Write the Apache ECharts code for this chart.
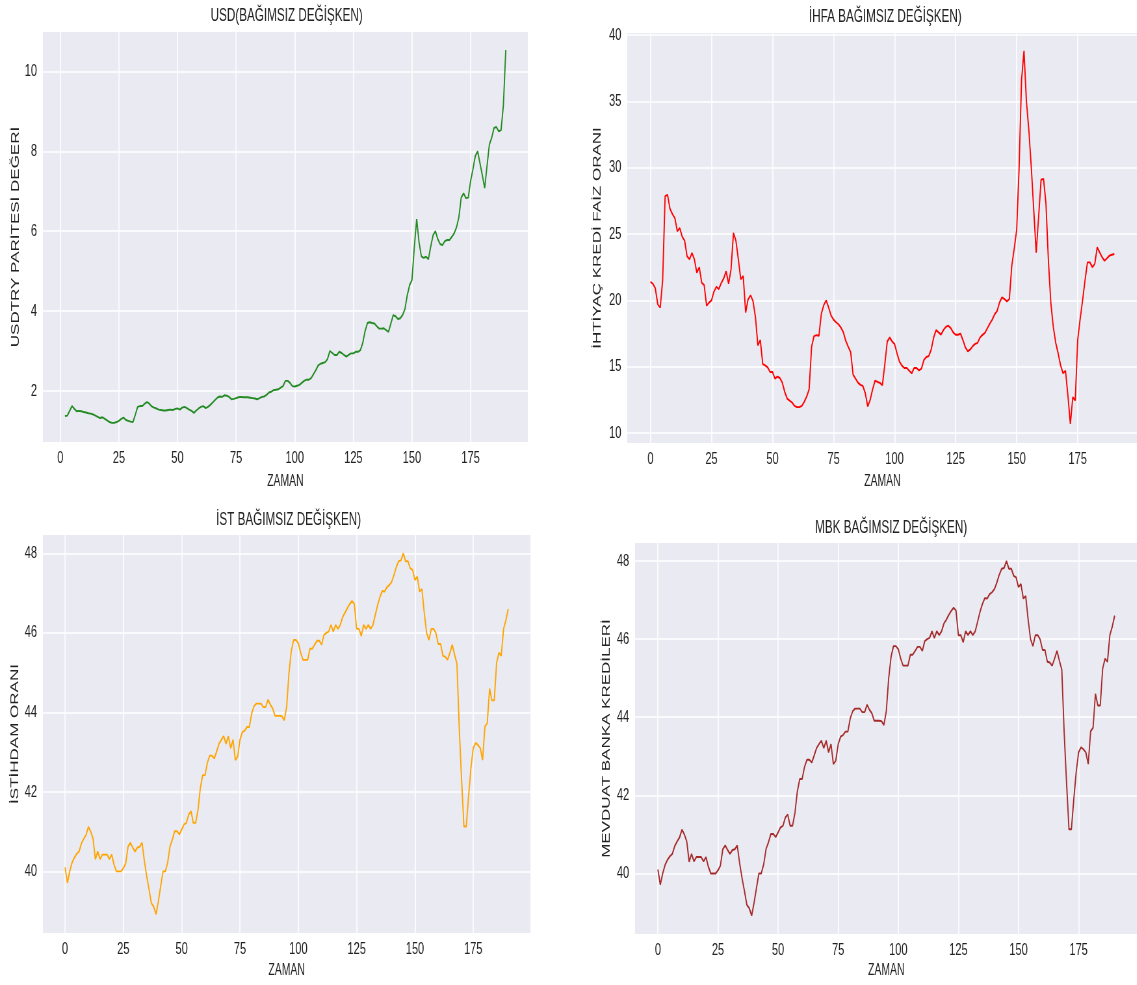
<!DOCTYPE html>
<html>
<head>
<meta charset="utf-8">
<title>Bağımsız değişkenler</title>
<script src="https://cdn.jsdelivr.net/npm/echarts@6/dist/echarts.min.js"></script>
<style>
  html, body { margin: 0; padding: 0; overflow: hidden; background: #fff; }
  /* the reference figure is squeezed horizontally, so draw wide and squeeze it the same way */
  #main { width: 1750px; height: 985px; transform: scaleX(0.65); transform-origin: 0 0; }
</style>
</head>
<body>
<div id="main"></div>
<script>
var myChart = echarts.init(document.getElementById('main'));

// USD series starts at ZAMAN = 2, the other ones at 0
const usdStart = 2;
const usd = [
  1.37, 1.38, 1.5, 1.62, 1.55, 1.49, 1.5, 1.49, 1.47, 1.46,
  1.44, 1.43, 1.41, 1.38, 1.35, 1.32, 1.34, 1.3, 1.26, 1.22,
  1.2, 1.2, 1.22, 1.25, 1.3, 1.33, 1.27, 1.25, 1.23, 1.22,
  1.4, 1.6, 1.62, 1.62, 1.68, 1.72, 1.68, 1.61, 1.58, 1.56,
  1.53, 1.52, 1.51, 1.51, 1.52, 1.53, 1.52, 1.55, 1.56, 1.53,
  1.58, 1.6, 1.57, 1.53, 1.5, 1.45, 1.51, 1.56, 1.6, 1.62,
  1.57, 1.6, 1.65, 1.71, 1.77, 1.83, 1.86, 1.85, 1.89, 1.88,
  1.85, 1.79, 1.8, 1.82, 1.84, 1.85, 1.84, 1.84, 1.84, 1.83,
  1.82, 1.81, 1.79, 1.82, 1.85, 1.86, 1.9, 1.96, 1.98, 2.02,
  2.03, 2.04, 2.08, 2.12, 2.25, 2.25, 2.2, 2.12, 2.11, 2.13,
  2.15, 2.2, 2.25, 2.28, 2.28, 2.32, 2.42, 2.52, 2.64, 2.68,
  2.7, 2.72, 2.8, 3.0, 2.95, 2.9, 2.9, 2.98, 2.95, 2.9,
  2.86, 2.9, 2.94, 2.94, 2.98, 2.98, 3.02, 3.2, 3.5, 3.7,
  3.72, 3.7, 3.69, 3.62, 3.56, 3.56, 3.57, 3.52, 3.48, 3.69,
  3.9, 3.87, 3.8, 3.82, 3.9, 4.05, 4.4, 4.65, 4.78, 5.6,
  6.3, 5.73, 5.37, 5.33, 5.36, 5.3, 5.62, 5.9, 6.0, 5.8,
  5.68, 5.65, 5.75, 5.78, 5.78, 5.86, 5.95, 6.1, 6.35, 6.84,
  6.95, 6.83, 6.84, 7.26, 7.55, 7.88, 8.0, 7.7, 7.4, 7.08,
  7.63, 8.17, 8.34, 8.59, 8.61, 8.5, 8.53, 9.17, 10.54
];

const ihfa = [
  21.4, 21.25, 20.9, 19.7, 19.45, 21.5, 27.85, 27.95, 26.9, 26.5,
  26.2, 25.2, 25.45, 24.8, 24.5, 23.33, 23.1, 23.58, 23.08, 22.08,
  22.5, 21.33, 21.15, 19.6, 19.83, 20.0, 20.65, 21.03, 20.85, 21.3,
  21.65, 22.2, 21.25, 22.33, 25.08, 24.5, 23.1, 21.58, 21.83, 19.08,
  20.08, 20.38, 19.95, 18.75, 16.6, 17.0, 15.2, 15.1, 14.95, 14.6,
  14.6, 14.1, 14.25, 14.15, 13.8, 13.1, 12.6, 12.45, 12.3, 12.05,
  11.95, 11.95, 12.05, 12.35, 12.75, 13.3, 16.5, 17.3, 17.38, 17.33,
  19.0, 19.65, 20.0, 19.45, 18.85, 18.55, 18.35, 18.2, 17.95, 17.6,
  16.95, 16.5, 16.1, 14.4, 14.1, 13.8, 13.63, 13.55, 13.0, 12.0,
  12.5, 13.3, 13.95, 13.85, 13.78, 13.6, 15.2, 16.9, 17.2, 16.9,
  16.7, 16.0, 15.38, 15.08, 14.9, 14.9, 14.7, 14.5, 14.9, 14.9,
  14.72, 14.85, 15.5, 15.73, 15.8, 16.3, 17.2, 17.76, 17.59, 17.42,
  17.76, 18.0, 18.09, 17.91, 17.59, 17.41, 17.41, 17.5, 17.0, 16.45,
  16.15, 16.3, 16.55, 16.72, 16.8, 17.2, 17.4, 17.55, 17.9, 18.25,
  18.55, 18.95, 19.2, 19.85, 20.23, 20.1, 19.92, 20.1, 22.6, 23.9,
  25.3, 30.0, 36.6, 38.8, 35.0, 32.8, 30.0, 26.8, 23.6, 26.3,
  29.1, 29.15, 27.3, 23.0, 19.8, 18.0, 16.8, 16.0, 15.1, 14.5,
  14.7, 12.8, 10.7, 12.7, 12.45, 17.0, 18.6, 20.0, 21.5, 22.86,
  22.86, 22.5, 22.75, 24.0, 23.62, 23.25, 22.99, 23.17, 23.37, 23.44,
  23.49
];

const ist = [
  40.1, 39.71, 40.0, 40.22, 40.35, 40.44, 40.5, 40.7, 40.82, 40.92,
  41.12, 41.0, 40.82, 40.3, 40.5, 40.31, 40.42, 40.42, 40.42, 40.31,
  40.42, 40.17, 40.0, 40.0, 40.0, 40.08, 40.2, 40.62, 40.72, 40.6,
  40.5, 40.6, 40.62, 40.72, 40.26, 39.88, 39.55, 39.2, 39.11, 38.92,
  39.25, 39.63, 40.0, 40.0, 40.23, 40.63, 40.8, 41.01, 41.01, 40.93,
  41.05, 41.18, 41.22, 41.43, 41.51, 41.22, 41.22, 41.55, 42.1, 42.42,
  42.42, 42.73, 42.91, 42.91, 42.84, 43.02, 43.21, 43.31, 43.4, 43.21,
  43.4, 43.1, 43.31, 42.8, 42.89, 43.31, 43.5, 43.54, 43.63, 43.63,
  43.97, 44.15, 44.22, 44.22, 44.22, 44.13, 44.13, 44.32, 44.19, 44.1,
  43.91, 43.91, 43.91, 43.9, 43.8, 44.15, 45.0, 45.55, 45.82, 45.82,
  45.74, 45.5, 45.32, 45.32, 45.32, 45.6, 45.6, 45.7, 45.8, 45.8,
  45.7, 45.95, 46.0, 46.03, 46.2, 46.03, 46.2, 46.1, 46.2, 46.4,
  46.5, 46.62, 46.72, 46.8, 46.73, 46.1, 46.1, 45.92, 46.2, 46.1,
  46.2, 46.1, 46.2, 46.45, 46.7, 46.9, 47.05, 47.04, 47.15, 47.2,
  47.28, 47.45, 47.65, 47.8, 47.82, 48.0, 47.8, 47.8, 47.62, 47.58,
  47.33, 47.41, 47.04, 47.1, 46.5, 46.0, 45.82, 46.1, 46.1, 45.99,
  45.72, 45.72, 45.42, 45.4, 45.32, 45.5, 45.7, 45.45, 45.22, 43.6,
  42.3, 41.13, 41.13, 41.9, 42.6, 43.1, 43.23, 43.18, 43.1, 42.8,
  43.64, 43.73, 44.6, 44.3, 44.3, 45.24, 45.5, 45.42, 46.1, 46.32,
  46.6
];

// the MBK panel plots the very same values as the IST panel
const mbk = ist;

const xTicks = [0, 25, 50, 75, 100, 125, 150, 175];
const usdTicks = [2, 4, 6, 8, 10];
const ihfaTicks = [10, 15, 20, 25, 30, 35, 40];
const istTicks = [40, 42, 44, 46, 48];

const fontFamily = 'Liberation Sans, Arial, sans-serif';
const textColor = '#222222';

// panel layout (coordinates are in the unsqueezed 1750px wide canvas)
const panels = [
  { title: 'USD(BAĞIMSIZ DEĞİŞKEN)', yName: 'USDTRY PARİTESİ DEĞERİ', color: '#228b22',
    values: usd, start: usdStart, yTicks: usdTicks,
    grid: { left: 66, top: 32, width: 746, height: 410 },
    xMin: -7.4, xMax: 199.4, yMin: 0.72, yMax: 10.99,
    titleX: 441, titleY: 7, yNameGap: 33, xNameGap: 32 },
  { title: 'İHFA BAĞIMSIZ DEĞİŞKEN)', yName: 'İHTİYAÇ KREDİ FAİZ ORANI', color: '#ff0000',
    values: ihfa, start: 0, yTicks: ihfaTicks,
    grid: { left: 965, top: 33, width: 791, height: 410 },
    xMin: -9.5, xMax: 199.5, yMin: 9.25, yMax: 40.15,
    titleX: 1362, titleY: 8, yNameGap: 37, xNameGap: 31 },
  { title: 'İST BAĞIMSIZ DEĞİŞKEN)', yName: 'İSTİHDAM ORANI', color: '#ffa500',
    values: ist, start: 0, yTicks: istTicks,
    grid: { left: 66, top: 535, width: 750, height: 398 },
    xMin: -9.5, xMax: 199.5, yMin: 38.45, yMax: 48.46,
    titleX: 444, titleY: 511, yNameGap: 34, xNameGap: 30 },
  { title: 'MBK BAĞIMSIZ DEĞİŞKEN)', yName: 'MEVDUAT BANKA KREDİLERİ', color: '#a52a2a',
    values: mbk, start: 0, yTicks: istTicks,
    grid: { left: 977, top: 543, width: 785, height: 391 },
    xMin: -9.5, xMax: 199.5, yMin: 38.45, yMax: 48.46,
    titleX: 1371, titleY: 519, yNameGap: 35, xNameGap: 29 }
];

const splitLine = { show: true, lineStyle: { color: '#ffffff', width: 1.6 } };

var option = {
  animation: false,
  backgroundColor: '#ffffff',
  title: panels.map(p => ({
    text: p.title,
    left: p.titleX,
    top: p.titleY,
    textAlign: 'center',
    padding: 0,
    textStyle: { fontSize: 18, fontWeight: 'normal', color: textColor, fontFamily: fontFamily }
  })),
  grid: panels.map(p => Object.assign({ backgroundColor: '#eaeaf2', show: true, borderWidth: 0 }, p.grid)),
  xAxis: panels.map((p, i) => ({
    gridIndex: i,
    type: 'value',
    min: p.xMin,
    max: p.xMax,
    name: 'ZAMAN',
    nameLocation: 'middle',
    nameGap: p.xNameGap,
    nameTextStyle: { fontSize: 16, color: textColor, fontFamily: fontFamily },
    axisLine: { show: false },
    axisTick: { show: false, customValues: xTicks },
    axisLabel: { customValues: xTicks, fontSize: 17, color: textColor, margin: 8, fontFamily: fontFamily },
    splitLine: splitLine
  })),
  yAxis: panels.map((p, i) => ({
    gridIndex: i,
    type: 'value',
    min: p.yMin,
    max: p.yMax,
    name: p.yName,
    nameLocation: 'middle',
    nameGap: p.yNameGap,
    nameTextStyle: { fontSize: 17, color: textColor, fontFamily: fontFamily },
    axisLine: { show: false },
    axisTick: { show: false, customValues: p.yTicks },
    axisLabel: { customValues: p.yTicks, fontSize: 17, color: textColor, margin: 9, fontFamily: fontFamily },
    splitLine: splitLine
  })),
  series: panels.map((p, i) => ({
    type: 'line',
    xAxisIndex: i,
    yAxisIndex: i,
    data: p.values.map((v, k) => [p.start + k, v]),
    showSymbol: false,
    symbol: 'none',
    lineStyle: { color: p.color, width: 1.9 },
    itemStyle: { color: p.color }
  }))
};

myChart.setOption(option);
</script>
</body>
</html>
